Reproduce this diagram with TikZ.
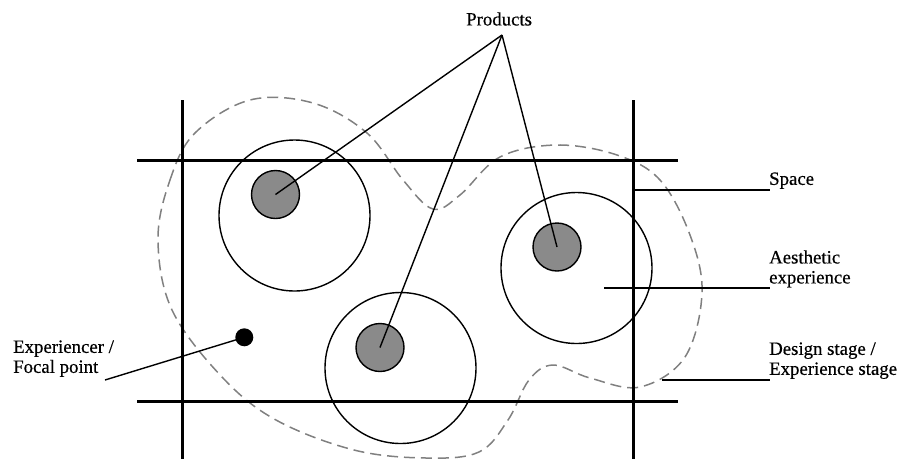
\documentclass[tikz,border=0pt]{standalone}
\usepackage{fontspec}
\setmainfont{Liberation Serif}
\newfontfamily\lblfont{Liberation Serif}[FakeBold=0.5]
\definecolor{prodgray}{RGB}{138,138,138}
\definecolor{stagegray}{RGB}{128,128,128}
\begin{document}
\begin{tikzpicture}[x=1pt,y=-1pt,
  thickline/.style={line width=3pt},
  ring/.style={circle,draw,line width=1.4pt,minimum size=151pt,inner sep=0pt},
  prodc/.style={circle,draw,line width=1.4pt,fill=prodgray,minimum size=48pt,inner sep=0pt},
  focal/.style={circle,fill=black,minimum size=18pt,inner sep=0pt},
  leader/.style={line width=1.4pt},
  lbl/.style={anchor=north west,inner sep=0pt,align=left,font=\lblfont\fontsize{18.8}{20}\selectfont},
  stageline/.style={draw=stagegray,line width=1.5pt,dash pattern=on 11pt off 6pt}]
\useasboundingbox (0,0) rectangle (898,459);

% design / experience stage (dashed)
\draw[stageline] plot[smooth cycle, tension=0.6] coordinates {
 (158,240) (170,180) (195,133) (250,100) (313,103) (367,133) (403,180)
 (433,209) (460,195) (500,157) (557,145) (617,155) (660,180) (690,235)
 (702,293) (685,357) (640,387) (590,378) (553,365) (529,380) (508,420)
 (479,452) (426,458) (354,450) (276,420) (222,377) (172,310)};

% space frame
\coordinate (vl-t) at (182,100); \coordinate (vl-b) at (182,459);
\coordinate (vr-t) at (633,100); \coordinate (vr-b) at (633,459);
\coordinate (ht-l) at (137,160); \coordinate (ht-r) at (678,160);
\coordinate (hb-l) at (137,401); \coordinate (hb-r) at (678,401);
\draw[thickline] (vl-t) -- (vl-b);
\draw[thickline] (vr-t) -- (vr-b);
\draw[thickline] (ht-l) -- (ht-r);
\draw[thickline] (hb-l) -- (hb-r);

% aesthetic experience circles
\node[ring] (r1) at (294.5,215.5) {};
\node[ring] (r2) at (576.5,268) {};
\node[ring] (r3) at (400.5,368) {};

% products
\node[prodc] (p1) at (275.5,194.5) {};
\node[prodc] (p2) at (557,247) {};
\node[prodc] (p3) at (380,347.5) {};

\node[lbl] (products) at (466,12.2) {Products};
\coordinate (apex) at (502,35);
\draw[leader] (apex) -- (p1.center);
\draw[leader] (apex) -- (p2.center);
\draw[leader] (apex) -- (p3.center);

% experiencer
\node[focal] (dot) at (244.3,337.3) {};
\node[lbl] (exper) at (13,340.2) {Experiencer /\\Focal point};
\coordinate (exp-end) at (105,380);
\draw[leader] (dot.center) -- (exp-end);

% right labels
\node[lbl] (space) at (769,172.2) {Space};
\coordinate (sp-a) at (633,190); \coordinate (sp-b) at (770,190);
\draw[leader] (sp-a) -- (sp-b);

\node[lbl] (aest) at (769,250.2) {Aesthetic\\experience};
\coordinate (ae-a) at (604,288); \coordinate (ae-b) at (770,288);
\draw[leader] (ae-a) -- (ae-b);

\node[lbl] (design) at (769,342.2) {Design stage /\\Experience stage};
\coordinate (ds-a) at (662,380); \coordinate (ds-b) at (770,380);
\draw[leader] (ds-a) -- (ds-b);
\end{tikzpicture}
\end{document}
